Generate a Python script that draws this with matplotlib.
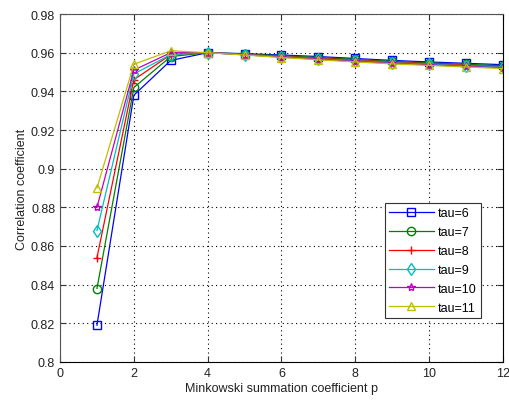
import matplotlib
matplotlib.use("Agg")
import matplotlib.pyplot as plt

plt.rcParams['font.family'] = ['Liberation Sans', 'DejaVu Sans']

# --------------------------------------------------------
# Données
# --------------------------------------------------------
p = [1, 2, 3, 4, 5, 6, 7, 8, 9, 10, 11, 12]

tau6 = [0.819, 0.938, 0.956, 0.9600, 0.9595, 0.9588, 0.9580, 0.9570, 0.9560, 0.9552, 0.9545, 0.9538]
tau7 = [0.838, 0.942, 0.958, 0.9600, 0.9593, 0.9584, 0.9575, 0.9565, 0.9555, 0.9547, 0.9540, 0.9532]
tau8 = [0.854, 0.946, 0.959, 0.9600, 0.9591, 0.9581, 0.9571, 0.9561, 0.9551, 0.9543, 0.9535, 0.9528]
tau9 = [0.868, 0.949, 0.959, 0.9600, 0.9590, 0.9579, 0.9568, 0.9558, 0.9548, 0.9540, 0.9532, 0.9525]
tau10 = [0.880, 0.951, 0.960, 0.9600, 0.9589, 0.9577, 0.9566, 0.9555, 0.9545, 0.9537, 0.9529, 0.9522]
tau11 = [0.890, 0.954, 0.961, 0.9600, 0.9588, 0.9575, 0.9563, 0.9552, 0.9542, 0.9534, 0.9526, 0.9518]

series = [tau6, tau7, tau8, tau9, tau10, tau11]
labels = ["tau=6", "tau=7", "tau=8", "tau=9", "tau=10", "tau=11"]
colors = [(0, 0, 1), (0, 0.5, 0), (1, 0, 0), (0, 0.75, 0.75), (0.75, 0, 0.75), (0.75, 0.75, 0)]
markers = ["s", "o", "+", "d", "*", "^"]

# --------------------------------------------------------
# Figure
# --------------------------------------------------------
fig = plt.figure(figsize=(5.09, 4.06), dpi=100)
ax = fig.add_axes([0.118, 0.106, 0.870, 0.857])

for y, lab, c, m in zip(series, labels, colors, markers):
    ax.plot(p, y, color=c, marker=m, markersize=6, markerfacecolor="none",
            markeredgecolor=c, linewidth=0.9, label=lab)

ax.set_xlim(0, 12)
ax.set_ylim(0.8, 0.98)
ax.set_xticks(range(0, 13, 2))
ax.set_yticks([0.8, 0.82, 0.84, 0.86, 0.88, 0.9, 0.92, 0.94, 0.96, 0.98])
ax.set_yticklabels(["0.8", "0.82", "0.84", "0.86", "0.88", "0.9", "0.92", "0.94", "0.96", "0.98"])
ax.tick_params(direction="in", labelsize=9, top=True, right=True, length=4,
               colors="#333333", labelcolor="#222222")
ax.grid(True, linestyle=(0, (1, 3)), color="black", linewidth=0.8)
ax.spines["left"].set_color("#555555")
ax.spines["top"].set_color("#555555")

ax.set_xlabel("Minkowski summation coefficient p", fontsize=9, labelpad=2, color="#222222")
ax.set_ylabel("Correlation coefficient", fontsize=9, labelpad=2, color="#222222")

leg = ax.legend(loc="lower right", bbox_to_anchor=(0.95, 0.126), fontsize=9,
                fancybox=False, framealpha=1, edgecolor="#333333",
                handlelength=3.6, handletextpad=0.3, borderpad=0.35,
                labelspacing=0.55, borderaxespad=0)
leg.get_frame().set_linewidth(0.8)

fig.savefig("out.png", dpi=100)
